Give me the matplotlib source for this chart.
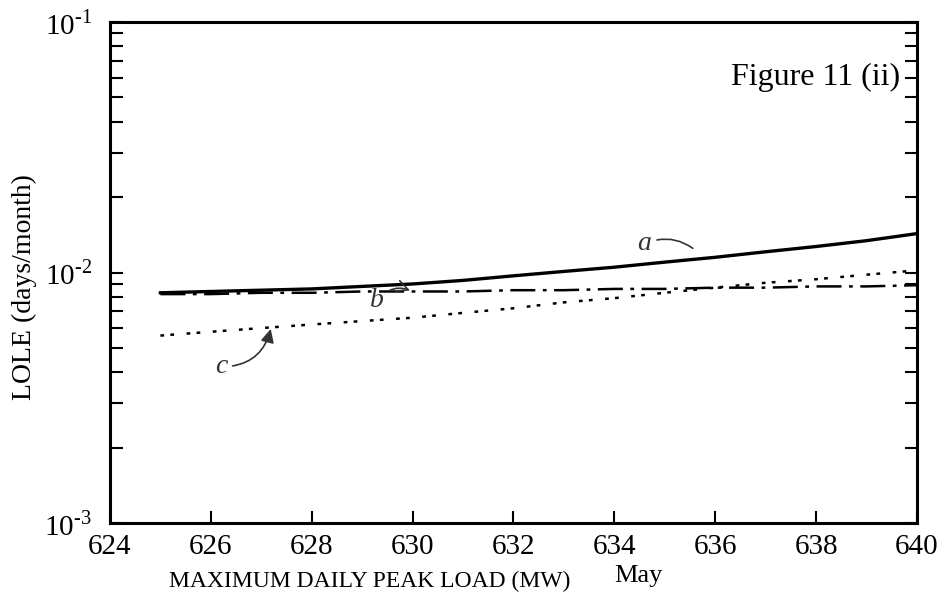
import numpy as np
import matplotlib.pyplot as plt
from matplotlib.ticker import LogLocator, NullFormatter, FuncFormatter

plt.rcParams["font.family"] = ["Liberation Serif", "DejaVu Serif"]
plt.rcParams["mathtext.fontset"] = "custom"
plt.rcParams["mathtext.rm"] = "Liberation Serif"

# peak load (MW)
load = [625, 626, 627, 628, 629, 630, 631, 632, 633, 634, 635, 636, 637, 638, 639, 640]

# LOLE (days/month)
curve_a = [0.0083, 0.0084, 0.0085, 0.0086, 0.0088, 0.0090, 0.0093, 0.0097, 0.0101,
           0.0105, 0.0110, 0.0115, 0.0121, 0.0127, 0.0134, 0.0143]
curve_b = [0.0082, 0.0082, 0.0083, 0.0083, 0.0084, 0.0084, 0.0084, 0.0085, 0.0085,
           0.0086, 0.0086, 0.0087, 0.0087, 0.0088, 0.0088, 0.0089]
curve_c = [0.0056, 0.0058, 0.0060, 0.0062, 0.0064, 0.0066, 0.0069, 0.0072, 0.0076,
           0.0079, 0.0083, 0.0087, 0.0091, 0.0094, 0.0098, 0.0102]

xticks = [624, 626, 628, 630, 632, 634, 636, 638, 640]


def pow_label(v, pos):
    return r"$10^{\text{-}%d}$" % round(-np.log10(v))


fig = plt.figure(figsize=(9.43, 5.98), dpi=100)
ax = fig.add_axes([0.1166, 0.1254, 0.8558, 0.8378])

ax.plot(load, curve_a, color="black", lw=2.4, ls="-")
ax.plot(load, curve_b, color="black", lw=1.8, ls=(0, (10, 3, 1.5, 3)))
ax.plot(load, curve_c, color="black", lw=1.8, ls=(0, (1.5, 2.5, 1.5, 5)))

ax.set_yscale("log")
ax.set_xlim(624, 640)
ax.set_ylim(1e-3, 1e-1)
ax.set_xticks(xticks)
ax.set_xticklabels([str(t) for t in xticks])
ax.yaxis.set_major_locator(LogLocator(base=10, numticks=5))
ax.yaxis.set_major_formatter(FuncFormatter(pow_label))
ax.yaxis.set_minor_locator(LogLocator(base=10, subs=np.arange(2, 10), numticks=20))
ax.yaxis.set_minor_formatter(NullFormatter())

ax.tick_params(axis="x", direction="in", length=9, width=1.5, top=False,
               labelsize=21, pad=8)
ax.tick_params(axis="y", which="both", direction="in", left=True, right=True,
               width=1.5, length=9, labelsize=21, pad=13)

for s in ax.spines.values():
    s.set_linewidth(2.2)

ax.set_ylabel("LOLE (days/month)", fontsize=20)
ax.yaxis.set_label_coords(-0.09, 0.47)
fig.text(0.392, 0.028, "MAXIMUM DAILY PEAK LOAD (MW)", ha="center", va="center",
         fontsize=17)
fig.text(0.677, 0.036, "May", ha="center", va="center", fontsize=19)

ax.text(0.979, 0.89, "Figure 11 (ii)", transform=ax.transAxes, ha="right",
        va="center", fontsize=23)

# hand-written curve labels
hand = dict(fontsize=20, fontstyle="italic", color="#333333")
ax.annotate("a", xy=(635.6, 0.0123), xytext=(634.6, 0.0130), ha="center",
            va="center", arrowprops=dict(arrowstyle="-", color="#333333", lw=1.2,
                                         connectionstyle="arc3,rad=-0.3"), **hand)
ax.annotate("b", xy=(630.0, 0.0084), xytext=(629.3, 0.0077), ha="center",
            va="center", arrowprops=dict(arrowstyle="->", color="#333333", lw=1.2,
                                         connectionstyle="arc3,rad=-0.4"), **hand)
ax.annotate("c", xy=(627.2, 0.0061), xytext=(626.2, 0.0042), ha="center",
            va="center", arrowprops=dict(arrowstyle="-|>", color="#333333", lw=1.2,
                                         connectionstyle="arc3,rad=0.4"), **hand)

fig.savefig("out.png", dpi=100)
